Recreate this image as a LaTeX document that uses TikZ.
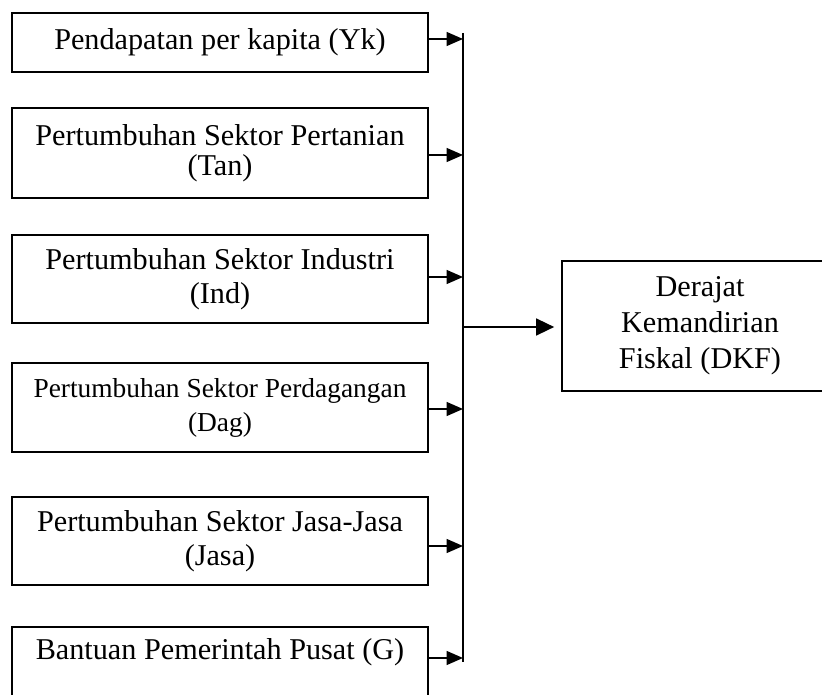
\documentclass[tikz,border=0pt]{standalone}
\usepackage{fontspec}
\setmainfont{Liberation Serif}
\usetikzlibrary{arrows.meta}

\tikzset{
	varbox/.style = {draw, line width = 1pt, inner sep = 0pt, align = center,
		minimum width = 8.32cm, font = \fontsize{17.2}{19.4}\selectfont},
	dkfbox/.style = {draw, line width = 1pt, inner sep = 0pt, align = center,
		minimum width = 5.52cm, minimum height = 2.6cm, font = \fontsize{17.2}{20.5}\selectfont},
	feed/.style = {line width = 0.9pt, -{Triangle[length = 0.33cm, width = 0.28cm]}},
	mainfeed/.style = {line width = 0.9pt, -{Triangle[length = 0.36cm, width = 0.34cm]}, shorten > = 0.14cm}
}

\begin{document}
\begin{tikzpicture}[x = 0.02cm, y = -0.02cm]

	\clip (0, 0) rectangle (822, 695);

	% Variables

	\node [varbox, minimum height = 1.18cm] (yk) at (220, 42.5) {Pendapatan per kapita (Yk)};
	\node [varbox, minimum height = 1.8cm, font = \fontsize{17.2}{16.8}\selectfont] (tan) at (220, 153) {Pertumbuhan Sektor Pertanian\\(Tan)};
	\node [varbox, minimum height = 1.76cm] (ind) at (220, 279) {Pertumbuhan Sektor Industri\\(Ind)};
	\node [varbox, minimum height = 1.78cm, font = \fontsize{15.6}{19.4}\selectfont] (dag) at (220, 407.5) {Pertumbuhan Sektor Perdagangan\\(Dag)};
	\node [varbox, minimum height = 1.76cm] (jasa) at (220, 541) {Pertumbuhan Sektor Jasa-Jasa\\(Jasa)};
	\node [varbox, minimum height = 1.76cm] (g) at (220, 671) {Bantuan Pemerintah Pusat (G)\\\strut};

	% Result

	\node [dkfbox] (dkf) at (700, 326) {Derajat\\Kemandirian\\Fiskal (DKF)};

	% Bus

	\coordinate (top) at (463, 33);
	\coordinate (bottom) at (463, 662);
	\draw [line width = 0.9pt] (top) -- (bottom);

	\coordinate (jyk) at (463, 39);
	\coordinate (jtan) at (463, 155);
	\coordinate (jind) at (463, 277);
	\coordinate (jdag) at (463, 409);
	\coordinate (jjasa) at (463, 546);
	\coordinate (jg) at (463, 658);
	\coordinate (jdkf) at (463, 327);

	% Arrows

	\foreach \v in {yk, tan, ind, dag, jasa, g}
		\draw [feed] (\v.east |- j\v) -- (j\v);

	\draw [mainfeed] (jdkf) -- (dkf.west |- jdkf);

\end{tikzpicture}
\end{document}
